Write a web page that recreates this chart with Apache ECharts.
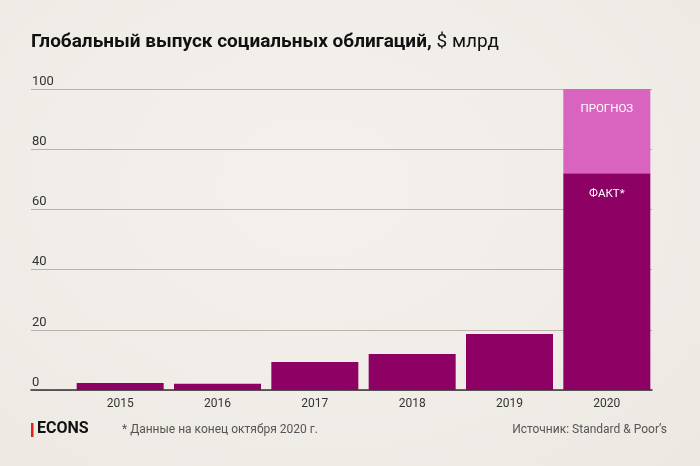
<!DOCTYPE html>
<html><head><meta charset="utf-8">
<script src="https://cdn.jsdelivr.net/npm/echarts@6/dist/echarts.min.js"></script>
<style>html,body{margin:0;padding:0;}#c{width:700px;height:466px;background:radial-gradient(ellipse at 45% 40%,#f4f1ed 0%,#ede8e2 100%);}</style>
</head><body><div id="c"></div>
<script>
const categories = ['2015','2016','2017','2018','2019','2020'];
const factValues = [2.3, 2.1, 9.3, 12.0, 18.6, 72];
const forecastValues = [null, null, null, null, null, 28];
const yTicks = [0,20,40,60,80,100];

const chart = echarts.init(document.getElementById('c'));
const font = 'Roboto, "Noto Sans", sans-serif';
chart.setOption({
  backgroundColor: 'transparent',
  animation: false,
  title: [{
    text: '{b|Глобальный выпуск социальных облигаций,} {r|$ млрд}',
    left: 31, top: 33, padding: 0,
    textStyle: { rich: {
      b: { fontFamily: font, fontWeight: 'bold', fontSize: 19, color: '#111' },
      r: { fontFamily: font, fontWeight: 'normal', fontSize: 19, color: '#111' }
    }}
  }],
  graphic: [
    { type: 'rect', left: 31, top: 423, shape: { width: 2.5, height: 14 }, style: { fill: '#e2231a' } },
    { type: 'text', left: 37, top: 421, style: { text: 'ECONS', font: 'bold 16px ' + font, fill: '#111' } },
    { type: 'text', left: 122, top: 424, style: { text: '* Данные на конец октября 2020 г.', font: '12px ' + font, fill: '#555' } },
    { type: 'text', right: 33, top: 424, style: { text: 'Источник: Standard & Poor’s', font: '12px ' + font, fill: '#555' } }
  ],
  grid: [
    { left: 31, right: 48, top: 89, bottom: 76 },
    { left: 71.5, right: 44.5, top: 89, bottom: 76 }
  ],
  xAxis: [
    { gridIndex: 0, type: 'value', min: 0, max: 1, show: true,
      axisLine: { show: true, onZero: false, lineStyle: { color: '#333', width: 1.5 } },
      axisTick: { show: false }, axisLabel: { show: false }, splitLine: { show: false } },
    { gridIndex: 1, type: 'category', data: categories,
      axisLine: { show: false }, axisTick: { show: false },
      axisLabel: { color: '#333', fontSize: 12, fontFamily: font, margin: 8 } }
  ],
  yAxis: [
    { gridIndex: 0, type: 'value', min: 0, max: 100, interval: 20,
      axisLine: { show: false }, axisTick: { show: false },
      splitLine: { lineStyle: { color: '#b8b3ad', width: 1 } },
      axisLabel: { inside: true, verticalAlign: 'bottom', margin: 1, padding: [0,0,1,0],
        color: '#333', fontSize: 13, fontFamily: font,
        formatter: v => yTicks.includes(v) ? String(v) : '' } },
    { gridIndex: 1, type: 'value', min: 0, max: 100, show: false }
  ],
  series: [
    { type: 'bar', xAxisIndex: 1, yAxisIndex: 1, stack: 's', data: factValues, barWidth: 87,
      itemStyle: { color: '#8d0064' },
      label: { show: true, position: 'insideTop', distance: 15, color: '#fff', fontSize: 11.5, fontFamily: font,
        formatter: p => p.dataIndex === 5 ? 'ФАКТ*' : '' } },
    { type: 'bar', xAxisIndex: 1, yAxisIndex: 1, stack: 's', data: forecastValues, barWidth: 87,
      itemStyle: { color: '#d964c0' },
      label: { show: true, position: 'insideTop', distance: 14, color: '#fff', fontSize: 11.5, fontFamily: font,
        formatter: 'ПРОГНОЗ' } }
  ]
});
</script></body></html>
